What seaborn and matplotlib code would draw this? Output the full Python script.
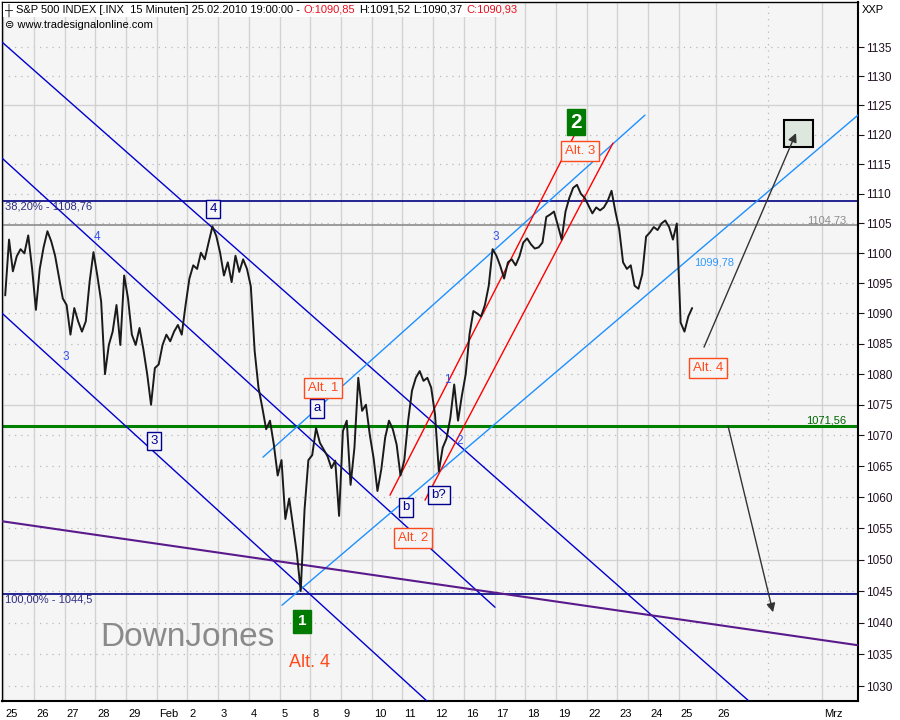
import numpy as np
import pandas as pd
import matplotlib
matplotlib.use("Agg")
import matplotlib.pyplot as plt
import matplotlib.ticker as mticker
from matplotlib.patches import Rectangle
from matplotlib.transforms import IdentityTransform, ScaledTranslation
import seaborn as sns

# ------------------------------------------------------------------ data
# trading-day tick labels (one per session), then the empty future area
day_labels = ['25', '26', '27', '28', '29', 'Feb', '2', '3', '4', '5', '8', '9',
              '10', '11', '12', '16', '17', '18', '19', '22', '23', '24', '25']
future_tick_pos = [23.2, 24.92, 26.66]
future_tick_labels = ['26', '', 'Mrz']
bars_per_day = 8

week_jan25 = [1093.0, 1102.3, 1097.0, 1099.5, 1100.7, 1100.0, 1103.0, 1097.5,
              1090.6, 1097.4, 1101.0, 1103.7, 1102.0, 1099.6, 1096.0, 1092.5,
              1091.4, 1086.5, 1090.9, 1088.7, 1087.0, 1088.7, 1095.3, 1100.2,
              1096.3, 1092.0, 1080.0, 1084.8, 1087.0, 1091.4, 1084.8, 1096.3,
              1092.5, 1086.5, 1084.8, 1087.6, 1084.1, 1080.0, 1075.0, 1081.0]
week_feb01 = [1081.6, 1084.8, 1086.5, 1085.4, 1087.0, 1088.1, 1086.5, 1091.4,
              1095.8, 1098.0, 1097.4, 1100.1, 1099.0, 1101.8, 1104.5, 1102.9,
              1100.1, 1096.3, 1098.5, 1095.2, 1099.6, 1096.9, 1099.0, 1097.4,
              1094.5, 1083.8, 1077.8, 1074.5, 1071.0, 1072.4, 1068.5, 1063.5,
              1066.0, 1056.5, 1059.8, 1055.4, 1051.0, 1045.0, 1058.0, 1066.0]
week_feb08 = [1066.8, 1071.2, 1068.8, 1067.7, 1066.6, 1064.7, 1065.9, 1057.0,
              1070.7, 1072.4, 1062.0, 1068.0, 1079.4, 1074.0, 1075.0, 1070.1,
              1066.3, 1061.0, 1064.5, 1069.6, 1072.4, 1071.0, 1068.5, 1063.5,
              1066.0, 1072.4, 1077.3, 1079.4, 1080.5, 1078.9, 1079.4, 1077.8,
              1073.4, 1064.2, 1068.0, 1069.5, 1072.9, 1078.3, 1072.4, 1076.5]
week_feb16 = [1080.0, 1086.6, 1090.4, 1090.0, 1089.5, 1091.4, 1094.6, 1100.7,
              1099.6, 1097.9, 1095.8, 1098.5, 1099.0, 1098.0, 1099.5, 1101.8,
              1102.5, 1101.5, 1100.8, 1101.0, 1101.8, 1106.1, 1106.5, 1107.0,
              1104.7, 1102.3, 1107.0, 1109.3, 1111.0, 1111.5, 1110.0, 1109.3]
week_feb22 = [1108.0, 1106.7, 1107.7, 1107.2, 1107.7, 1108.8, 1110.5, 1107.0,
              1104.0, 1098.5, 1097.4, 1098.0, 1094.6, 1094.1, 1096.5, 1102.8,
              1103.5, 1104.4, 1103.9, 1105.0, 1105.5, 1104.4, 1102.3, 1105.0,
              1088.5, 1087.0, 1089.5, 1090.9]

y_ticks = list(range(1030, 1140, 5))
x_range = (-0.042, 27.84)
y_range = (1027.7, 1142.8)

# horizontal levels
fib_382 = 1108.76
level_gray = 1104.73
level_green = 1071.56
fib_100 = 1044.5

# drawn trend lines: ((day, price), (day, price))
dark_blue_lines = [((-0.042, 1135.87), (24.257, 1027.82)),
                   ((-0.042, 1116.03), (16.016, 1042.44)),
                   ((-0.042, 1090.05), (14.127, 1026.26))]
light_blue_lines = [((8.459, 1066.47), (20.902, 1123.34)),
                    ((9.078, 1042.76), (27.84, 1123.34))]
red_lines = [((12.596, 1060.33), (18.72, 1121.13)),
             ((13.736, 1059.53), (19.86, 1118.57))]
purple_line = ((-0.042, 1056.14), (27.84, 1036.44))
arrow_up = ((22.824, 1084.44), (25.821, 1120.27))
arrow_down = ((23.606, 1071.56), (25.072, 1041.65))
target_box = ((25.43, 1117.89), (26.374, 1122.49))

# wave labels
boxed_wave = [('4', 6.831, 1107.41), ('3', 4.909, 1069.06), ('a', 10.218, 1074.43),
              ('b', 13.117, 1058.38), ('b?', 14.192, 1060.33)]
plain_wave = [('4', 3.052, 1102.71), ('3', 2.042, 1082.79), ('3', 16.049, 1102.71),
              ('1', 14.453, 1079.01), ('2', 14.876, 1069.06)]
alt_boxes = [('Alt. 1', 10.414, 1077.71), ('Alt. 2', 13.345, 1053.42),
             ('Alt. 3', 18.785, 1117.22), ('Alt. 4', 22.954, 1080.98)]
alt_plain = ('Alt. 4', 9.99, 1033.77)
green_marks = [('2', 18.655, 1122.15), ('1', 9.73, 1040.20)]
level_1099 = ('1099,78', 22.498, 1098.53)

# ------------------------------------------------------------------ style
sns.set_style("white")
plt.rcParams["font.family"] = ["Liberation Sans", "DejaVu Sans"]

W, H = 900, 720
fig = plt.figure(figsize=(9, 7.2), dpi=100, facecolor="white")
ax = fig.add_axes([2 / W, 1 - 701 / H, 856 / W, 699 / H])
ax.set_facecolor("#F5F5F5")
ax.set_yscale("log")
ax.set_xlim(*x_range)
ax.set_ylim(*y_range)

# grid
for lvl in y_ticks:
    if lvl % 25 == 0:
        ax.axhline(lvl, color="#D2D2D2", lw=1.0, zorder=0.5)
    else:
        ax.axhline(lvl, color="#B8B8B8", lw=0.9, ls=(0, (1, 4)), zorder=0.5)
xtick_pos = list(range(len(day_labels))) + future_tick_pos
xtick_labels = day_labels + future_tick_labels
for pos, lab in zip(xtick_pos, xtick_labels):
    if lab:
        ax.axvline(pos, color="#D2D2D2", lw=1.0, zorder=0.5)
    else:
        ax.axvline(pos, color="#B8B8B8", lw=0.9, ls=(0, (1, 4)), zorder=0.5)

# horizontal levels
ax.axhline(fib_382, color="#000080", lw=1.2, zorder=2)
ax.axhline(level_gray, color="#8C8C8C", lw=1.2, zorder=2)
ax.axhline(level_green, color="#008000", lw=2.2, zorder=2)
ax.axhline(fib_100, color="#000080", lw=1.2, zorder=2)

# trend lines
for (a, b) in dark_blue_lines:
    ax.plot([a[0], b[0]], [a[1], b[1]], color="#0000CD", lw=1.0, zorder=3)
for (a, b) in light_blue_lines:
    ax.plot([a[0], b[0]], [a[1], b[1]], color="#1E90FF", lw=1.0, zorder=3)
for (a, b) in red_lines:
    ax.plot([a[0], b[0]], [a[1], b[1]], color="#FF0000", lw=1.0, zorder=3)
ax.plot([purple_line[0][0], purple_line[1][0]], [purple_line[0][1], purple_line[1][1]],
        color="#5A1A8C", lw=1.5, zorder=3)

# price series
closes = week_jan25 + week_feb01 + week_feb08 + week_feb16 + week_feb22
t = (np.arange(len(closes)) + 0.5) / bars_per_day
df = pd.DataFrame({"t": t, "close": closes})
sns.lineplot(data=df, x="t", y="close", ax=ax, color="#1a1a1a", lw=1.4,
             estimator=None, sort=False, zorder=5)
ax.set_xlabel("")
ax.set_ylabel("")

# arrows and target box
for (a, b) in (arrow_up, arrow_down):
    ax.annotate("", xy=b, xytext=a,
                arrowprops=dict(arrowstyle="-|>", color="#333333", lw=1.0,
                                mutation_scale=13, shrinkA=0, shrinkB=0), zorder=6)
(bx0, by0), (bx1, by1) = target_box
ax.add_patch(Rectangle((bx0, by0), bx1 - bx0, by1 - by0, fc="#DDE7DD", ec="black",
                       lw=1.5, zorder=5))

# labels
navy = "#000090"
for txt, x, y in boxed_wave:
    ax.text(x, y, txt, color=navy, fontsize=9.5, ha="center", va="center", zorder=7,
            bbox=dict(boxstyle="square,pad=0.25", fc="#F5F5F5", ec=navy, lw=1.0))
for txt, x, y in plain_wave:
    ax.text(x, y, txt, color="#3050F0", fontsize=8.5, ha="center", va="center", zorder=7)
orange = "#FF4A1C"
for txt, x, y in alt_boxes:
    ax.text(x, y, txt, color=orange, fontsize=9.5, ha="center", va="center", zorder=7,
            bbox=dict(boxstyle="square,pad=0.3", fc="#F5F5F5", ec=orange, lw=1.0))
ax.text(alt_plain[1], alt_plain[2], alt_plain[0], color=orange, fontsize=13,
        ha="center", va="center", zorder=7)
for (txt, x, y), fs, pad in zip(green_marks, (15, 11), (0.15, 0.3)):
    ax.text(x, y, txt, color="white", fontsize=fs, fontweight="bold", ha="center",
            va="center", zorder=7,
            bbox=dict(boxstyle=f"square,pad={pad}", fc="#007A00", ec="#007A00"))
ax.text(level_1099[1], level_1099[2], level_1099[0], color="#3399FF", fontsize=8,
        ha="left", va="center", zorder=7)

# level value texts
ax.text(0.003, fib_382, "38,20% - 1108,76", transform=ax.get_yaxis_transform(),
        color="#2E2E80", fontsize=8, ha="left", va="top", zorder=7)
ax.text(0.003, fib_100, "100,00% - 1044,5", transform=ax.get_yaxis_transform(),
        color="#2E2E80", fontsize=8, ha="left", va="top", zorder=7)
ax.text(0.986, level_gray, "1104,73", transform=ax.get_yaxis_transform(),
        color="#8C8C8C", fontsize=8, ha="right", va="bottom", zorder=7)
ax.text(0.986, level_green, "1071,56", transform=ax.get_yaxis_transform(),
        color="#006400", fontsize=8, ha="right", va="bottom", zorder=7)

# watermark
ax.text(3.15, 1037.67, "DownJones", color="#8A8A8A", fontsize=24, ha="left",
        va="center", zorder=7)

# axes / ticks
ax.yaxis.tick_right()
ax.yaxis.set_major_locator(mticker.FixedLocator(y_ticks))
ax.yaxis.set_major_formatter(mticker.FuncFormatter(lambda v, _: f"{v:.0f}"))
ax.yaxis.set_minor_locator(mticker.NullLocator())
ax.yaxis.set_minor_formatter(mticker.NullFormatter())
ax.tick_params(axis="y", which="major", direction="out", length=4, width=0.8,
               labelsize=8.5, pad=2, colors="#201020", right=True, left=False)
ax.set_xticks(xtick_pos)
ax.set_xticklabels(xtick_labels)
ax.tick_params(axis="x", direction="out", length=5, width=0.8, labelsize=8, pad=1,
               colors="black")
offset = ScaledTranslation(1.5 / 72, 0, fig.dpi_scale_trans)
for lbl in ax.get_xticklabels():
    lbl.set_horizontalalignment("left")
    lbl.set_transform(lbl.get_transform() + offset)

for side, lw in (("left", 1.0), ("top", 1.0), ("right", 1.5), ("bottom", 1.5)):
    ax.spines[side].set_visible(True)
    ax.spines[side].set_color("black")
    ax.spines[side].set_linewidth(lw)

# header
ident = IdentityTransform()
fig.patches.append(Rectangle((3, H - 17), 497, 14, transform=ident, fc="white",
                             ec="none", zorder=1))
renderer = fig.canvas.get_renderer()
header_segments = [("┼", "black"),
                   ("S&P 500 INDEX [.INX  15 Minuten] 25.02.2010 19:00:00 -", "black"),
                   ("O:1090,85", "#E8101E"),
                   ("H:1091,52", "black"),
                   ("L:1090,37", "black"),
                   ("C:1090,93", "#E8101E")]
xpos = 5
for txt, col in header_segments:
    tt = fig.text(xpos, H - 10, txt, color=col, fontsize=8, ha="left", va="center",
                  transform=ident, zorder=3)
    bb = tt.get_window_extent(renderer)
    xpos = bb.x1 + 3.5
fig.text(5, H - 25, "⊜ www.tradesignalonline.com", color="black", fontsize=8,
         ha="left", va="center", transform=ident, zorder=3)
fig.text(862, H - 10, "XXP", color="black", fontsize=8, ha="left", va="center",
         transform=ident)

fig.savefig("out.png", dpi=100, facecolor="white")
